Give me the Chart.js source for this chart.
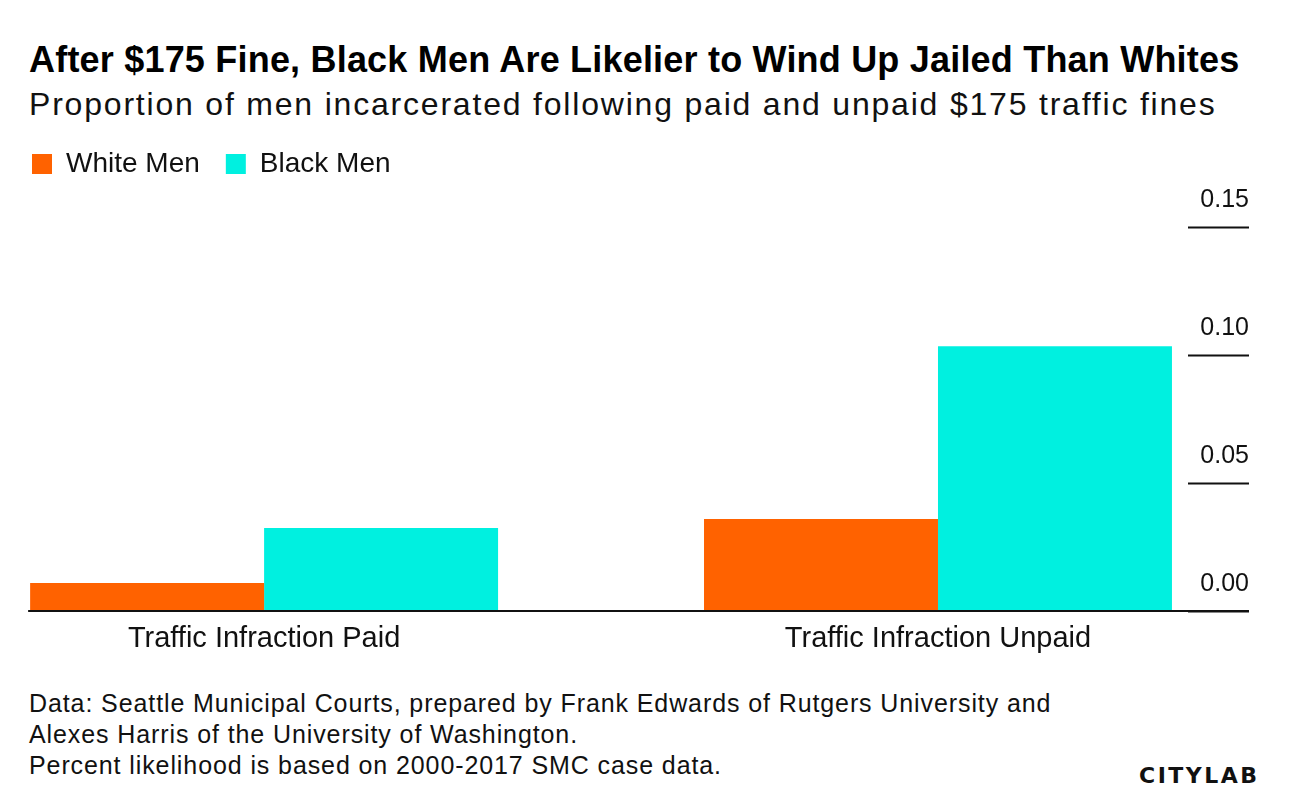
<!DOCTYPE html>
<html>
<head>
<meta charset="utf-8">
<script src="https://cdn.jsdelivr.net/npm/chart.js@4.4.1/dist/chart.umd.min.js"></script>
<style>
    html, body { margin: 0; padding: 0; background: #fff; }
    #page { position: relative; width: 1296px; height: 804px; overflow: hidden; font-family: 'Liberation Sans', Arial, sans-serif; color: #000; }
    .title { position: absolute; left: 29px; top: 42px; font-size: 36px; font-weight: bold; line-height: 36px; letter-spacing: 0.2px; white-space: nowrap; }
    .subtitle { position: absolute; left: 29px; top: 88px; font-size: 32px; line-height: 32px; letter-spacing: 1.8px; white-space: nowrap; color: #111; }
    .chart-box { position: absolute; left: 0; top: 120px; width: 1296px; height: 552px; }
    .footer { position: absolute; left: 29px; top: 688px; font-size: 25px; line-height: 31px; letter-spacing: 0.9px; color: #111; }
    .logo { position: absolute; left: 1139px; top: 763px; font-family: 'DejaVu Sans', sans-serif; font-weight: bold; font-size: 22px; letter-spacing: 2.5px; color: #111; }
</style>
</head>
<body>
<div id="page">
    <div class="title">After $175 Fine, Black Men Are Likelier to Wind Up Jailed Than Whites</div>
    <div class="subtitle">Proportion of men incarcerated following paid and unpaid $175 traffic fines</div>
    <div class="chart-box"><canvas id="chart"></canvas></div>
    <div class="footer">
        Data: Seattle Municipal Courts, prepared by Frank Edwards of Rutgers University and<br>
        Alexes Harris of the University of Washington.<br>
        Percent likelihood is based on 2000-2017 SMC case data.
    </div>
    <div class="logo">CITYLAB</div>
</div>
<script>
// البيانات
const categories = ['Traffic Infraction Paid', 'Traffic Infraction Unpaid'];
const whiteMen = [0.011, 0.036];
const blackMen = [0.0325, 0.1034];
const yTicks = [0, 0.05, 0.10, 0.15];

// مسافة تحت وسيلة الإيضاح
const legendGap = {
    id: 'legendGap',
    beforeInit(chart) {
        const fit = chart.legend.fit;
        chart.legend.fit = function() {
            fit.bind(chart.legend)();
            this.height += 39;
        };
    }
};

// خط الأساس
const baseLine = {
    id: 'baseLine',
    afterDatasetsDraw(chart) {
        const yScale = chart.scales.y;
        const first = chart.getDatasetMeta(0).data[0];
        const y = Math.round(yScale.getPixelForValue(0));
        const ctx = chart.ctx;
        ctx.save();
        ctx.strokeStyle = '#111';
        ctx.lineWidth = 2;
        ctx.beginPath();
        ctx.moveTo(first.x - first.width / 2 - 2, y);
        ctx.lineTo(yScale.right, y);
        ctx.stroke();
        ctx.restore();
    }
};

const toPoints = arr => arr.map((v, i) => ({ x: i, y: v }));

new Chart(document.getElementById('chart'), {
    type: 'bar',
    data: {
        datasets: [
            { label: 'White Men', data: toPoints(whiteMen), backgroundColor: '#FF6200' },
            { label: 'Black Men', data: toPoints(blackMen), backgroundColor: '#00F0E0' }
        ]
    },
    options: {
        responsive: true,
        maintainAspectRatio: false,
        animation: false,
        categoryPercentage: 0.6944,
        barPercentage: 1.0,
        layout: { padding: { left: 6, right: 47, top: 4, bottom: 6 } },
        plugins: {
            legend: {
                position: 'top',
                align: 'start',
                labels: {
                    boxWidth: 20,
                    boxHeight: 20,
                    padding: 26,
                    color: '#111',
                    font: { family: 'Liberation Sans', size: 28 }
                }
            },
            tooltip: { enabled: false }
        },
        scales: {
            x: {
                type: 'linear',
                offset: false,
                min: -0.383,
                max: 1.371,
                afterBuildTicks: scale => {
                    scale.ticks = categories.map((c, i) => ({ value: i }));
                },
                grid: { display: false, drawTicks: false, offset: false },
                border: { display: false },
                ticks: {
                    padding: 10,
                    color: '#111',
                    font: { family: 'Liberation Sans', size: 29 },
                    callback: value => categories[value]
                }
            },
            y: {
                position: 'right',
                min: 0,
                max: 0.15,
                afterBuildTicks: scale => {
                    scale.ticks = yTicks.map(v => ({ value: v }));
                },
                afterFit: scale => {
                    scale.width = 61;
                },
                grid: {
                    drawOnChartArea: false,
                    drawTicks: true,
                    tickLength: 61,
                    tickColor: '#111',
                    tickWidth: 2
                },
                border: { display: false },
                ticks: {
                    crossAlign: 'far',
                    padding: -49,
                    labelOffset: -27,
                    color: '#111',
                    font: { family: 'Liberation Sans', size: 25 },
                    callback: value => value.toFixed(2)
                }
            }
        }
    },
    plugins: [legendGap, baseLine]
});
</script>
</body>
</html>
